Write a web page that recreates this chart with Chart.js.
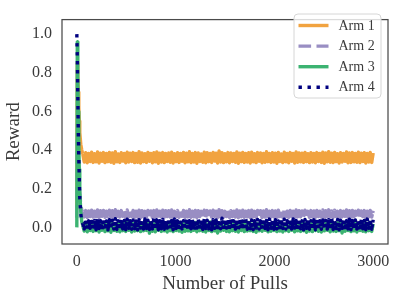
<!DOCTYPE html>
<html>
<head>
<meta charset="utf-8">
<script src="https://cdn.jsdelivr.net/npm/chart.js@4.4.1/dist/chart.umd.min.js"></script>
<style>
  html, body { margin: 0; padding: 0; background: #fff; }
  #rewardChart { display: block; }
</style>
</head>
<body>
<canvas id="rewardChart" width="398" height="300"></canvas>
<script>
// --- data (noisy bands: alternating low/high envelope values) ---
const pulls = [0, 5, 10, 15, 20, 25, 30, 40, 50, 60,
  75, 90, 105, 120, 135, 150, 165, 180, 195, 210, 225, 240, 255, 270,
  285, 300, 315, 330, 345, 360, 375, 390, 405, 420, 435, 450, 465, 480,
  495, 510, 525, 540, 555, 570, 585, 600, 615, 630, 645, 660, 675, 690,
  705, 720, 735, 750, 765, 780, 795, 810, 825, 840, 855, 870, 885, 900,
  915, 930, 945, 960, 975, 990, 1005, 1020, 1035, 1050, 1065, 1080, 1095, 1110,
  1125, 1140, 1155, 1170, 1185, 1200, 1215, 1230, 1245, 1260, 1275, 1290, 1305, 1320,
  1335, 1350, 1365, 1380, 1395, 1410, 1425, 1440, 1455, 1470, 1485, 1500, 1515, 1530,
  1545, 1560, 1575, 1590, 1605, 1620, 1635, 1650, 1665, 1680, 1695, 1710, 1725, 1740,
  1755, 1770, 1785, 1800, 1815, 1830, 1845, 1860, 1875, 1890, 1905, 1920, 1935, 1950,
  1965, 1980, 1995, 2010, 2025, 2040, 2055, 2070, 2085, 2100, 2115, 2130, 2145, 2160,
  2175, 2190, 2205, 2220, 2235, 2250, 2265, 2280, 2295, 2310, 2325, 2340, 2355, 2370,
  2385, 2400, 2415, 2430, 2445, 2460, 2475, 2490, 2505, 2520, 2535, 2550, 2565, 2580,
  2595, 2610, 2625, 2640, 2655, 2670, 2685, 2700, 2715, 2730, 2745, 2760, 2775, 2790,
  2805, 2820, 2835, 2850, 2865, 2880, 2895, 2910, 2925, 2940, 2955, 2970, 2985, 3000];

const arm1 = [0.10, 0.85, 0.78, 0.70, 0.62, 0.55, 0.49, 0.43, 0.40, 0.38,
  0.338, 0.386, 0.334, 0.383, 0.341, 0.389, 0.336, 0.381, 0.339, 0.390, 0.333, 0.384, 0.342, 0.387,
  0.335, 0.382, 0.340, 0.388, 0.337, 0.385, 0.332, 0.391, 0.339, 0.380, 0.336, 0.386, 0.343, 0.383,
  0.334, 0.389, 0.338, 0.384, 0.341, 0.387, 0.335, 0.382, 0.337, 0.392, 0.333, 0.385, 0.340, 0.381,
  0.336, 0.388, 0.342, 0.383, 0.334, 0.386, 0.339, 0.390, 0.332, 0.384, 0.338, 0.387, 0.335, 0.382,
  0.341, 0.385, 0.337, 0.389, 0.333, 0.381, 0.340, 0.386, 0.336, 0.383, 0.342, 0.388, 0.334, 0.384,
  0.339, 0.391, 0.335, 0.382, 0.338, 0.387, 0.332, 0.385, 0.341, 0.380, 0.337, 0.389, 0.334, 0.386,
  0.340, 0.383, 0.336, 0.388, 0.343, 0.384, 0.333, 0.395, 0.338, 0.386, 0.335, 0.381, 0.339, 0.387,
  0.334, 0.385, 0.341, 0.382, 0.337, 0.390, 0.332, 0.384, 0.340, 0.388, 0.336, 0.383, 0.338, 0.386,
  0.333, 0.389, 0.339, 0.381, 0.335, 0.387, 0.342, 0.385, 0.334, 0.383, 0.337, 0.391, 0.340, 0.382,
  0.336, 0.386, 0.338, 0.384, 0.332, 0.388, 0.341, 0.380, 0.335, 0.389, 0.339, 0.383, 0.334, 0.387,
  0.342, 0.382, 0.333, 0.390, 0.337, 0.385, 0.339, 0.384, 0.336, 0.388, 0.340, 0.381, 0.335, 0.386,
  0.338, 0.383, 0.334, 0.387, 0.341, 0.382, 0.336, 0.389, 0.332, 0.385, 0.339, 0.392, 0.337, 0.384,
  0.335, 0.388, 0.340, 0.381, 0.333, 0.386, 0.338, 0.383, 0.342, 0.390, 0.334, 0.385, 0.336, 0.387,
  0.339, 0.382, 0.337, 0.389, 0.335, 0.384, 0.341, 0.386, 0.333, 0.383, 0.338, 0.388, 0.336, 0.385];

const arm2 = [0.05, 0.45, 0.40, 0.34, 0.28, 0.22, 0.17, 0.12, 0.09, 0.08,
  0.054, 0.087, 0.051, 0.085, 0.056, 0.089, 0.053, 0.084, 0.055, 0.090, 0.050, 0.086, 0.057, 0.088,
  0.052, 0.084, 0.055, 0.089, 0.053, 0.086, 0.051, 0.091, 0.056, 0.083, 0.054, 0.087, 0.057, 0.085,
  0.051, 0.090, 0.054, 0.085, 0.056, 0.088, 0.052, 0.084, 0.053, 0.089, 0.050, 0.086, 0.055, 0.083,
  0.053, 0.088, 0.057, 0.085, 0.051, 0.087, 0.055, 0.090, 0.050, 0.084, 0.054, 0.089, 0.052, 0.086,
  0.056, 0.086, 0.053, 0.090, 0.051, 0.083, 0.055, 0.087, 0.052, 0.085, 0.057, 0.088, 0.050, 0.084,
  0.054, 0.091, 0.052, 0.084, 0.055, 0.088, 0.050, 0.086, 0.056, 0.083, 0.053, 0.089, 0.051, 0.087,
  0.055, 0.085, 0.053, 0.089, 0.057, 0.084, 0.051, 0.092, 0.054, 0.086, 0.052, 0.083, 0.056, 0.088,
  0.051, 0.086, 0.056, 0.084, 0.053, 0.090, 0.050, 0.085, 0.055, 0.089, 0.052, 0.084, 0.054, 0.087,
  0.050, 0.089, 0.055, 0.083, 0.052, 0.088, 0.057, 0.086, 0.051, 0.085, 0.053, 0.091, 0.056, 0.084,
  0.053, 0.087, 0.054, 0.085, 0.050, 0.089, 0.056, 0.083, 0.052, 0.090, 0.055, 0.084, 0.051, 0.088,
  0.057, 0.084, 0.051, 0.090, 0.054, 0.086, 0.055, 0.085, 0.053, 0.089, 0.056, 0.083, 0.052, 0.087,
  0.054, 0.085, 0.051, 0.088, 0.056, 0.084, 0.053, 0.090, 0.050, 0.086, 0.055, 0.091, 0.053, 0.085,
  0.052, 0.089, 0.056, 0.083, 0.050, 0.087, 0.054, 0.084, 0.057, 0.090, 0.051, 0.086, 0.053, 0.088,
  0.055, 0.084, 0.053, 0.089, 0.052, 0.085, 0.056, 0.087, 0.050, 0.084, 0.054, 0.088, 0.053, 0.086];

const arm3 = [0.00, 0.96, 0.78, 0.60, 0.44, 0.30, 0.19, 0.08, 0.03, 0.01,
  -0.019, 0.021, -0.023, 0.017, -0.016, 0.025, -0.021, 0.019, -0.017, 0.027, -0.024, 0.016, -0.015, 0.023,
  -0.022, 0.018, -0.018, 0.026, -0.025, 0.020, -0.016, 0.015, -0.020, 0.024, -0.023, 0.019, -0.017, 0.022,
  -0.021, 0.025, -0.015, 0.017, -0.024, 0.021, -0.019, 0.028, -0.017, 0.018, -0.022, 0.023, -0.018, 0.016,
  -0.016, 0.020, -0.030, 0.024, -0.020, 0.019, -0.023, 0.026, -0.015, 0.017, -0.021, 0.022, -0.018, 0.021,
  -0.024, 0.016, -0.017, 0.027, -0.022, 0.020, -0.016, 0.018, -0.019, 0.025, -0.025, 0.019, -0.020, 0.023,
  -0.018, 0.022, -0.021, 0.015, -0.015, 0.026, -0.023, 0.021, -0.017, 0.018, -0.020, 0.024, -0.024, 0.017,
  -0.016, 0.028, -0.022, 0.019, -0.018, 0.023, -0.029, 0.016, -0.019, 0.025, -0.015, 0.020, -0.021, 0.018,
  -0.023, 0.021, -0.017, 0.027, -0.020, 0.017, -0.024, 0.024, -0.016, 0.019, -0.022, 0.022, -0.019, 0.026,
  -0.017, 0.018, -0.021, 0.023, -0.025, 0.020, -0.018, 0.016, -0.020, 0.025, -0.015, 0.021, -0.023, 0.019,
  -0.020, 0.024, -0.016, 0.017, -0.022, 0.022, -0.019, 0.027, -0.024, 0.018, -0.017, 0.020, -0.021, 0.025,
  -0.015, 0.019, -0.023, 0.026, -0.018, 0.016, -0.021, 0.023, -0.017, 0.021, -0.025, 0.018, -0.019, 0.024,
  -0.022, 0.022, -0.016, 0.017, -0.020, 0.025, -0.024, 0.020, -0.018, 0.028, -0.015, 0.019, -0.023, 0.023,
  -0.019, 0.016, -0.021, 0.024, -0.017, 0.021, -0.029, 0.018, -0.020, 0.026, -0.016, 0.020, -0.022, 0.022,
  -0.018, 0.025, -0.024, 0.019, -0.016, 0.023, -0.020, 0.017, -0.023, 0.021, -0.017, 0.026, -0.021, 0.018];

const arm4 = [1.00, 0.88, 0.68, 0.50, 0.36, 0.25, 0.15, 0.07, 0.03, 0.02,
  -0.008, 0.038, -0.011, 0.034, -0.005, 0.041, -0.009, 0.036, -0.012, 0.043, -0.006, 0.035, -0.010, 0.039,
  -0.007, 0.033, -0.013, 0.040, -0.004, 0.037, -0.009, 0.045, -0.011, 0.034, -0.006, 0.039, -0.008, 0.036,
  -0.012, 0.042, -0.005, 0.035, -0.010, 0.038, -0.007, 0.033, -0.013, 0.040, -0.004, 0.036, -0.009, 0.044,
  -0.006, 0.037, -0.011, 0.034, -0.008, 0.049, -0.005, 0.039, -0.012, 0.035, -0.007, 0.041, -0.010, 0.033,
  -0.004, 0.040, -0.009, 0.036, -0.013, 0.043, -0.006, 0.034, -0.011, 0.038, -0.008, 0.035, -0.005, 0.042,
  -0.010, 0.035, -0.007, 0.039, -0.012, 0.033, -0.004, 0.041, -0.009, 0.036, -0.011, 0.044, -0.006, 0.037,
  -0.008, 0.034, -0.013, 0.040, -0.005, 0.038, -0.010, 0.035, -0.007, 0.047, -0.012, 0.036, -0.004, 0.039,
  -0.011, 0.042, -0.006, 0.034, -0.009, 0.037, -0.013, 0.040, -0.005, 0.033, -0.008, 0.045, -0.010, 0.036,
  -0.007, 0.038, -0.012, 0.035, -0.004, 0.041, -0.009, 0.034, -0.011, 0.039, -0.006, 0.036, -0.013, 0.043,
  -0.005, 0.036, -0.010, 0.040, -0.008, 0.033, -0.012, 0.038, -0.006, 0.042, -0.009, 0.035, -0.011, 0.037,
  -0.009, 0.044, -0.004, 0.036, -0.011, 0.039, -0.007, 0.034, -0.013, 0.041, -0.005, 0.037, -0.010, 0.035,
  -0.006, 0.039, -0.012, 0.043, -0.008, 0.035, -0.010, 0.038, -0.004, 0.036, -0.009, 0.040, -0.007, 0.046,
  -0.011, 0.034, -0.006, 0.041, -0.013, 0.037, -0.005, 0.039, -0.010, 0.035, -0.008, 0.042, -0.012, 0.036,
  -0.004, 0.038, -0.009, 0.035, -0.011, 0.040, -0.007, 0.036, -0.012, 0.043, -0.005, 0.037, -0.010, 0.039];

const armNames = ['Arm 1', 'Arm 2', 'Arm 3', 'Arm 4'];
const armValues = [arm1, arm2, arm3, arm4];
const xTicks = [0, 1000, 2000, 3000];
const yTicks = [0.0, 0.2, 0.4, 0.6, 0.8, 1.0];

// --- styles (matplotlib-ish) ---
// bandDash: the dense 3000-sample band looks almost solid, so tighten gaps there
const LW = 3.4;
const armStyles = [
    { color: '#f1a340', dash: [], bandDash: [] },
    { color: '#998ec3', dash: [12.6, 5.4], bandDash: [12.6, 1.4] },
    { color: '#3cb371', dash: [], bandDash: [] },
    { color: '#000080', dash: [3.4, 5.6], bandDash: [3.4, 1.6] }
];
const SERIF = "'Liberation Serif', 'DejaVu Serif', serif";
const TEXT_COLOR = '#3a3a3a';

function toPoints(values) {
    return values.map((v, i) => ({ x: pulls[i], y: v }));
}

// frame round the plot area
const framePlugin = {
    id: 'frame',
    afterDraw(chart) {
        const { ctx, chartArea: a } = chart;
        ctx.save();
        ctx.strokeStyle = '#4a4a4a';
        ctx.lineWidth = 1.25;
        ctx.strokeRect(a.left, a.top, a.right - a.left, a.bottom - a.top);
        ctx.restore();
    }
};

// legend box, top right, with line samples
const legendPlugin = {
    id: 'lineLegend',
    afterDraw(chart) {
        const ctx = chart.ctx;
        const box = { x: 294, y: 14, w: 87, h: 84, r: 4 };
        ctx.save();
        ctx.beginPath();
        ctx.roundRect(box.x, box.y, box.w, box.h, box.r);
        ctx.fillStyle = 'rgba(255,255,255,0.8)';
        ctx.fill();
        ctx.strokeStyle = '#d6d6d6';
        ctx.lineWidth = 1;
        ctx.stroke();

        ctx.font = '14px ' + SERIF;
        ctx.textBaseline = 'middle';
        ctx.fillStyle = TEXT_COLOR;
        armNames.forEach((name, i) => {
            const y = 25.5 + i * 20.6;
            const st = armStyles[i];
            ctx.beginPath();
            ctx.setLineDash(st.dash);
            ctx.lineCap = 'butt';
            ctx.strokeStyle = st.color;
            ctx.lineWidth = LW;
            ctx.moveTo(298.5, y);
            ctx.lineTo(328.5, y);
            ctx.stroke();
            ctx.setLineDash([]);
            ctx.fillText(name, 338.5, y + 0.5);
        });
        ctx.restore();
    }
};

Chart.defaults.font.family = SERIF;
Chart.defaults.color = TEXT_COLOR;

const ctx = document.getElementById('rewardChart').getContext('2d');
new Chart(ctx, {
    type: 'line',
    data: {
        datasets: armNames.map((name, i) => ({
            label: name,
            data: toPoints(armValues[i]),
            borderColor: armStyles[i].color,
            backgroundColor: armStyles[i].color,
            borderWidth: LW,
            borderDash: armStyles[i].dash,
            borderJoinStyle: 'round',
            borderCapStyle: 'butt',
            pointRadius: 0,
            tension: 0,
            fill: false,
            segment: {
                borderDash: (c) => (c.p0.parsed.x >= 60 ? armStyles[i].bandDash : undefined)
            },
            order: 4 - i   // Arm 4 drawn last, on top
        }))
    },
    options: {
        responsive: false,
        animation: false,
        devicePixelRatio: 1,
        layout: { padding: { top: 8, right: 10, left: 0, bottom: 0 } },
        plugins: {
            legend: { display: false },
            tooltip: { enabled: false }
        },
        scales: {
            x: {
                type: 'linear',
                min: -150,
                max: 3150,
                grid: { display: false, drawTicks: false },
                border: { display: false },
                afterBuildTicks: (s) => { s.ticks = xTicks.map(v => ({ value: v })); },
                afterFit: (s) => { s.height = 56; },
                ticks: {
                    padding: 8,
                    maxRotation: 0,
                    font: { size: 16 },
                    callback: (v) => String(v)
                },
                title: {
                    display: true,
                    text: 'Number of Pulls',
                    font: { size: 19 },
                    padding: { top: 0, bottom: 5 }
                }
            },
            y: {
                min: -0.086,
                max: 1.075,
                grid: { display: false, drawTicks: false },
                border: { display: false },
                afterBuildTicks: (s) => { s.ticks = yTicks.map(v => ({ value: v })); },
                afterFit: (s) => { s.width = 62; },
                ticks: {
                    padding: 10,
                    font: { size: 16 },
                    callback: (v) => Number(v).toFixed(1)
                },
                title: {
                    display: true,
                    text: 'Reward',
                    font: { size: 19 },
                    padding: { top: 3, bottom: 0 }
                }
            }
        }
    },
    plugins: [framePlugin, legendPlugin]
});
</script>
</body>
</html>
